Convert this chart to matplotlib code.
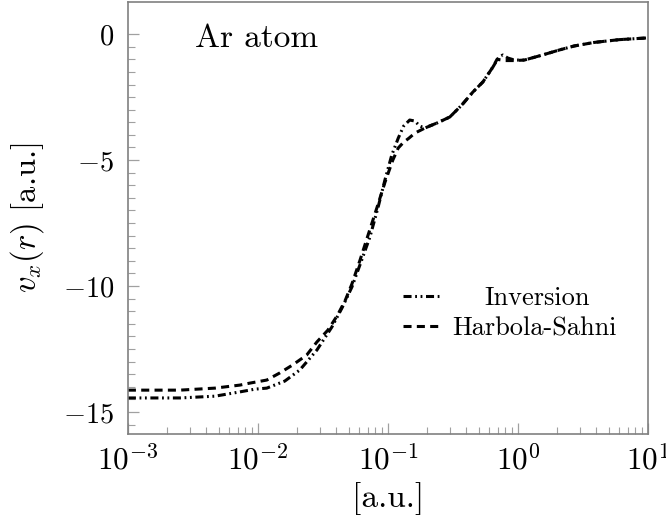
import numpy as np
import matplotlib
matplotlib.use("Agg")
import matplotlib.pyplot as plt
from matplotlib.ticker import FixedLocator, FixedFormatter, LogLocator, NullFormatter

plt.rcParams['mathtext.fontset'] = 'cm'
plt.rcParams['font.family'] = 'serif'
plt.rcParams['font.serif'] = ['cmr10', 'DejaVu Serif']
plt.rcParams['lines.scale_dashes'] = False

# r [a.u.], v_x(r) [a.u.]
r_inv = [0.001, 0.00251, 0.00467, 0.00726, 0.0095, 0.0117, 0.0161, 0.021, 0.0284,
         0.037, 0.0443, 0.0528, 0.0628, 0.0726, 0.0837, 0.0948, 0.107, 0.12, 0.132,
         0.147, 0.161, 0.176, 0.192, 0.238, 0.299, 0.369, 0.45, 0.537, 0.641, 0.713,
         0.765, 0.836, 0.94, 1.12, 1.54, 2.08, 2.71, 3.86, 6.0, 10.0]
v_inv = [-14.44, -14.44, -14.37, -14.2, -14.09, -14.05, -13.77, -13.33, -12.54,
         -11.63, -10.87, -10.04, -8.97, -8.06, -6.9, -5.79, -4.8, -4.13, -3.65,
         -3.41, -3.45, -3.65, -3.73, -3.53, -3.29, -2.82, -2.3, -1.9, -1.31, -0.91,
         -0.83, -0.95, -1.03, -1.03, -0.83, -0.63, -0.47, -0.33, -0.22, -0.15]

r_hs = [0.001, 0.00251, 0.00467, 0.00726, 0.0087, 0.0117, 0.0147, 0.0185, 0.0237,
        0.0284, 0.0345, 0.041, 0.047, 0.0528, 0.061, 0.0703, 0.0825, 0.095, 0.109,
        0.12, 0.132, 0.145, 0.161, 0.179, 0.199, 0.238, 0.299, 0.369, 0.45, 0.537,
        0.641, 0.69, 0.79, 0.94, 1.12, 1.54, 2.08, 2.71, 3.86, 6.0, 10.0]
v_hs = [-14.13, -14.13, -14.05, -13.93, -13.85, -13.73, -13.45, -13.13, -12.74,
        -12.22, -11.75, -11.15, -10.56, -9.92, -8.97, -7.98, -6.87, -5.87, -5.0,
        -4.52, -4.29, -4.13, -3.93, -3.81, -3.69, -3.53, -3.29, -2.82, -2.3, -1.9,
        -1.31, -1.0, -1.05, -1.05, -1.03, -0.83, -0.63, -0.47, -0.33, -0.22, -0.15]

y_ticks = [-15, -10, -5, 0]
y_labels = ['$-15$', '$-10$', '$-5$', '$0$']
x_ticks = [1e-3, 1e-2, 1e-1, 1e0, 1e1]
x_labels = ['$10^{-3}$', '$10^{-2}$', '$10^{-1}$', '$10^{0}$', '$10^{1}$']

fig = plt.figure(figsize=(6.66, 5.27), dpi=100)
ax = fig.add_axes([0.192, 0.1765, 0.781, 0.8195])

ax.plot(r_inv, v_inv, color='black', lw=2.2,
        dashes=(5.8, 2.6, 1.3, 2.6, 1.3, 2.6), label='Inversion')
ax.plot(r_hs, v_hs, color='black', lw=2.2, dashes=(5.8, 3.8), label='Harbola-Sahni')

ax.set_xscale('log')
ax.set_xlim(1e-3, 1e1)
ax.set_ylim(-15.87, 1.27)

ax.xaxis.set_major_locator(FixedLocator(x_ticks))
ax.xaxis.set_major_formatter(FixedFormatter(x_labels))
ax.xaxis.set_minor_locator(LogLocator(base=10, subs=np.arange(2, 10)))
ax.xaxis.set_minor_formatter(NullFormatter())
ax.yaxis.set_major_locator(FixedLocator(y_ticks))
ax.yaxis.set_major_formatter(FixedFormatter(y_labels))
ax.yaxis.set_minor_locator(FixedLocator(np.arange(-15.5, 0, 0.5)))

for s in ax.spines.values():
    s.set_color('#808080')
    s.set_linewidth(1.2)
ax.tick_params(which='both', direction='in', color='#a0a0a0', top=False, right=False)
ax.tick_params(axis='y', pad=10, labelsize=20.5)
ax.tick_params(axis='x', pad=8, labelsize=22.5)
ax.tick_params(which='major', length=8, width=0.9)
ax.tick_params(which='minor', length=5, width=0.8)

ax.set_xlabel('[a.u.]', fontsize=24, labelpad=4)
ax.set_ylabel(r'$v_x(r)$ [a.u.]', fontsize=23.5, labelpad=12)

ax.text(0.129, 0.915, 'Ar atom', transform=ax.transAxes,
        fontsize=24, va='center', ha='left')

leg = ax.legend(loc='upper left', bbox_to_anchor=(0.483, 0.397), frameon=False,
                handlelength=1.48, handletextpad=0.4, labelspacing=0.25,
                prop={'family': 'cmr10', 'size': 19})
# pgfplots centres the legend texts; nudge the shorter one over
leg.get_texts()[0].set_x(32)

fig.savefig('out.png', dpi=100)
